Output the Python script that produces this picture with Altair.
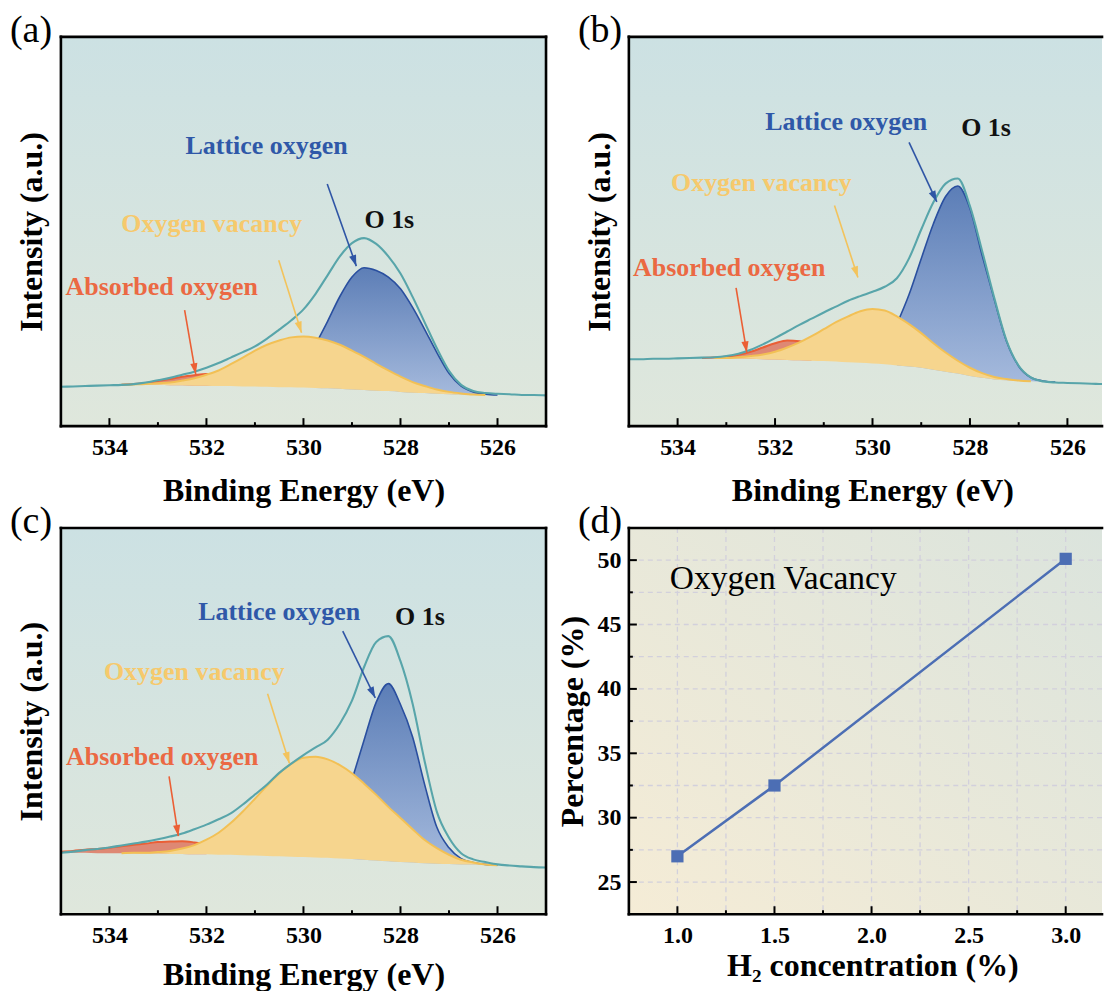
import math
import altair as alt
import pandas as pd

FONT = "Liberation Serif"

# ---------------- data ----------------
ENERGY = [535.0, 534.75, 534.5, 534.25, 534.0, 533.75, 533.5, 533.25, 533.0, 532.75,
          532.5, 532.25, 532.0, 531.75, 531.5, 531.25, 531.0, 530.75, 530.5, 530.25,
          530.0, 529.75, 529.5, 529.25, 529.0, 528.75, 528.5, 528.25, 528.0, 527.75,
          527.5, 527.25, 527.0, 526.75, 526.5, 526.25, 526.0, 525.75, 525.5, 525.25,
          525.0]

# panel (a)
A_TEAL = [10.1, 10.2, 10.3, 10.4, 10.5, 10.6, 10.8, 11.2, 11.8, 12.4,
          13.2, 14.0, 15.0, 16.2, 17.6, 19.0, 20.5, 22.5, 24.8, 27.2,
          30.0, 34.0, 38.8, 43.6, 47.0, 48.3, 46.8, 43.6, 39.2, 33.2,
          26.6, 20.0, 14.2, 10.6, 9.0, 8.5, 8.3, 8.2, 8.0, 8.0,
          7.9]
A_BASE = [10.1, 10.2, 10.3, 10.4, 10.5, 10.6, 10.6, 10.6, 10.6, 10.5,
          10.5, 10.4, 10.4, 10.3, 10.3, 10.2, 10.2, 10.1, 10.0, 10.0,
          9.9, 9.8, 9.7, 9.6, 9.4, 9.3, 9.1, 9.0, 8.8, 8.6,
          8.5, 8.3, 8.2, 8.1, 8.0, 8.0, 8.0, 8.0, 8.0, 7.9,
          7.9]
A_ABS = [0, 0, 0, 0, 0, 0, 0.2, 0.5, 1.0, 1.6,
         2.2, 2.7, 3.0, 2.8, 2.0, 1.2, 0.6, 0.2, 0, 0,
         0, 0, 0, 0, 0, 0, 0, 0, 0, 0,
         0, 0, 0, 0, 0, 0, 0, 0, 0, 0,
         0]
A_VAC = [0, 0, 0, 0, 0, 0, 0.1, 0.2, 0.4, 0.7,
         1.2, 1.9, 2.8, 4.0, 5.6, 7.4, 9.2, 10.8, 12.0, 12.8,
         13.1, 12.9, 12.3, 11.3, 10.0, 8.5, 6.9, 5.3, 3.9, 2.7,
         1.8, 1.1, 0.6, 0.3, 0.1, 0, 0, 0, 0, 0,
         0]
A_LAT = [0, 0, 0, 0, 0, 0, 0, 0, 0, 0,
         0, 0, 0, 0, 0, 0, 0, 0.6, 1.5, 3.3,
         6.5, 11.2, 17.3, 23.7, 28.9, 31.4, 30.9, 29.3, 26.5, 21.9,
         16.3, 10.6, 5.4, 2.2, 0.8, 0.2, 0, 0, 0, 0,
         0]

# panel (b)
B_TEAL = [17.2, 17.2, 17.3, 17.3, 17.4, 17.5, 17.6, 17.7, 18.0, 18.6,
          19.6, 21.0, 22.6, 24.3, 26.0, 27.6, 29.2, 30.7, 32.2, 33.4,
          34.5, 35.8, 38.0, 43.1, 50.5, 57.5, 62.3, 63.6, 56.5, 45.0,
          32.9, 22.0, 15.5, 12.5, 11.5, 11.2, 11.1, 11.0, 10.9, 10.8,
          10.8]
B_BASE = [17.2, 17.2, 17.3, 17.3, 17.4, 17.5, 17.5, 17.5, 17.4, 17.4,
          17.3, 17.2, 17.1, 17.0, 16.9, 16.8, 16.7, 16.6, 16.4, 16.3,
          16.1, 15.9, 15.6, 15.3, 15.0, 14.5, 14.0, 13.5, 12.9, 12.4,
          12.0, 11.8, 11.6, 11.5, 11.4, 11.3, 11.2, 11.1, 11.0, 10.9,
          10.8]
B_ABS = [0, 0, 0, 0, 0, 0, 0, 0.1, 0.4, 0.9,
         1.8, 3.0, 4.2, 5.0, 4.9, 3.9, 2.5, 1.3, 0.5, 0.2,
         0, 0, 0, 0, 0, 0, 0, 0, 0, 0,
         0, 0, 0, 0, 0, 0, 0, 0, 0, 0,
         0]
B_VAC = [0, 0, 0, 0, 0, 0, 0, 0, 0.1, 0.3,
         0.7, 1.2, 2.0, 3.2, 4.6, 6.3, 8.2, 10.1, 11.8, 13.2,
         14.0, 13.8, 12.6, 10.9, 8.9, 6.8, 4.9, 3.3, 2.1, 1.2,
         0.6, 0.3, 0.1, 0, 0, 0, 0, 0, 0, 0,
         0]
B_LAT = [0, 0, 0, 0, 0, 0, 0, 0, 0, 0,
         0, 0, 0, 0, 0, 0, 0, 0, 0.2, 0.7,
         2.0, 5.0, 10.6, 18.5, 28.0, 37.5, 45.0, 48.2, 43.0, 31.5,
         20.5, 10.0, 3.8, 1.0, 0.2, 0, 0, 0, 0, 0,
         0]

# panel (c)
C_TEAL = [15.9, 16.2, 16.6, 16.9, 17.3, 17.8, 18.3, 18.8, 19.4, 20.1,
          20.9, 22.0, 23.2, 24.6, 26.1, 28.4, 31.0, 33.6, 36.6, 39.0,
          41.2, 43.2, 45.2, 49.3, 55.3, 64.0, 70.5, 72.0, 65.5, 54.5,
          39.5, 26.5, 19.8, 15.8, 14.2, 13.5, 12.9, 12.6, 12.4, 12.2,
          12.1]
C_BASE = [15.9, 15.9, 15.9, 15.8, 15.8, 15.8, 15.8, 15.7, 15.7, 15.6,
          15.6, 15.5, 15.5, 15.4, 15.4, 15.3, 15.2, 15.1, 15.0, 14.9,
          14.8, 14.7, 14.6, 14.4, 14.3, 14.1, 13.9, 13.7, 13.5, 13.4,
          13.2, 13.1, 13.0, 12.9, 12.9, 12.8, 12.7, 12.6, 12.5, 12.3,
          12.1]
C_ABS = [0.3, 0.5, 0.8, 1.1, 1.4, 1.8, 2.2, 2.6, 3.0, 3.2,
         3.3, 3.1, 2.6, 1.9, 1.2, 0.7, 0.3, 0.1, 0, 0,
         0, 0, 0, 0, 0, 0, 0, 0, 0, 0,
         0, 0, 0, 0, 0, 0, 0, 0, 0, 0,
         0]
C_VAC = [0, 0, 0, 0, 0, 0, 0.1, 0.2, 0.4, 0.8,
         1.4, 2.4, 3.8, 5.7, 8.2, 11.3, 14.7, 18.2, 21.5, 24.1,
         25.7, 26.1, 25.5, 24.2, 22.2, 19.7, 17.0, 14.1, 11.4, 8.6,
         6.0, 4.0, 2.4, 1.2, 0.5, 0.1, 0, 0, 0, 0,
         0]
C_LAT = [0, 0, 0, 0, 0, 0, 0, 0, 0, 0,
         0, 0, 0, 0, 0, 0, 0, 0, 0, 0,
         0.5, 1.6, 4.6, 10.8, 20.5, 31.0, 41.0, 46.0, 40.8, 32.5,
         20.3, 9.4, 4.2, 1.5, 0.5, 0.1, 0, 0, 0, 0,
         0]

# panel (d)
D_H2 = [1.0, 1.5, 3.0]
D_PCT = [27.0, 32.5, 50.1]

# tick values
X_MAJOR = [534, 532, 530, 528, 526]
X_MINOR = [533, 531, 529, 527]
D_X_MAJOR = [1.0, 1.5, 2.0, 2.5, 3.0]
D_X_MINOR = [1.25, 1.75, 2.25, 2.75]
D_Y_MAJOR = [25, 30, 35, 40, 45, 50]
D_Y_MINOR = [27.5, 32.5, 37.5, 42.5, 47.5]

# annotation texts / arrows (data coordinates)
LABEL_TEXTS = ["Lattice oxygen", "O 1s", "Oxygen vacancy", "Absorbed oxygen"]
TEXT_COLORS = ["#2f58a8", "#111111", "#f6c96c", "#eb6943"]
ARROW_COLORS = ["#2f55a5", "#f3c35c", "#eb5f35"]

A_TXT_X = [530.76, 528.23, 531.89, 532.92]
A_TXT_Y = [72.0, 53.0, 51.8, 35.7]
A_ARR = [(529.51, 62.2, 528.91, 41.1), (530.51, 42.6, 530.04, 24.0), (532.45, 29.8, 532.22, 13.3)]

B_TXT_X = [530.54, 527.67, 532.28, 532.94]
B_TXT_Y = [78.1, 76.7, 62.4, 40.6]
B_ARR = [(529.25, 72.9, 528.68, 57.6), (530.78, 56.7, 530.30, 38.2), (532.80, 35.5, 532.58, 18.9)]

C_TXT_X = [530.50, 527.60, 532.25, 532.91]
C_TXT_Y = [78.2, 77.0, 62.6, 40.7]
C_ARR = [(529.19, 73.3, 528.52, 56.0), (530.74, 57.1, 530.29, 39.1), (532.77, 35.7, 532.58, 20.2)]

# ---------------- styling ----------------
BG_XPS = alt.LinearGradient(gradient="linear",
                            stops=[alt.GradientStop(color="#cce1e3", offset=0),
                                   alt.GradientStop(color="#dfe7dc", offset=1)],
                            x1=0, x2=0, y1=0, y2=1)
BG_D = alt.LinearGradient(gradient="linear",
                          stops=[alt.GradientStop(color="#f5ecd6", offset=0),
                                 alt.GradientStop(color="#dbe4dd", offset=1)],
                          x1=0, y1=1, x2=1, y2=0)
BLUE_FILL = alt.LinearGradient(gradient="linear",
                               stops=[alt.GradientStop(color="#2852a5", offset=0),
                                      alt.GradientStop(color="#8ca6dc", offset=1)],
                               x1=0, x2=0, y1=0, y2=1)
ARROW_PATH = "M0,0L0.9,2.8L-0.9,2.8Z"
ONE = pd.DataFrame({"k": [0]})


def comp_frame(base, vals, cover=None):
    """rows of one fitted component; with `cover`, drop the part hidden under it"""
    rows = []
    n = len(vals)
    for i in range(n):
        near = vals[i] > 0 or (i > 0 and vals[i - 1] > 0) or (i < n - 1 and vals[i + 1] > 0)
        if cover is not None:
            if vals[i] > 0 and cover[i] > vals[i] + 3.0:
                near = False
            if vals[i] == 0 and cover[i] > 0.5:
                near = False
        if near:
            rows.append({"E": ENERGY[i], "base": base[i], "top": base[i] + vals[i]})
    return pd.DataFrame(rows)


def frame_rules(W, H, right=True):
    kw = dict(color="black", strokeWidth=2.6, strokeCap="square")
    rs = [
        alt.Chart(ONE).mark_rule(**kw).encode(x=alt.value(0), x2=alt.value(W), y=alt.value(0)),
        alt.Chart(ONE).mark_rule(**kw).encode(x=alt.value(0), x2=alt.value(W), y=alt.value(H)),
        alt.Chart(ONE).mark_rule(**kw).encode(x=alt.value(0), y=alt.value(0), y2=alt.value(H)),
    ]
    if right:
        rs.append(alt.Chart(ONE).mark_rule(**kw).encode(x=alt.value(W), y=alt.value(0), y2=alt.value(H)))
    return rs


def panel_label(txt):
    return alt.Chart(ONE).mark_text(text=txt, font=FONT, fontSize=38, align="left",
                                    baseline="alphabetic", color="black").encode(
        x=alt.value(-51), y=alt.value(5))


def xps_panel(label, teal, base, absb, vac, lat, txt_x, txt_y, arrows, W, H, xdom,
              right=True, title_x=None, title_pad=17):
    xs = alt.Scale(domain=xdom, reverse=True, nice=False, zero=False)
    ys = alt.Scale(domain=[0, 100], nice=False, zero=False)
    kx = W / (xdom[1] - xdom[0])
    ky = H / 100.0
    ax_kw = dict(values=X_MAJOR, format="d", labelPadding=9, tickSize=0, ticks=False,
                 domain=False, grid=False, labelFlush=False,
                 title="Binding Energy (eV)", titlePadding=title_pad)
    if title_x is not None:
        ax_kw["titleX"] = title_x
    x_axis = alt.Axis(**ax_kw)
    y_axis = alt.Axis(labels=False, ticks=False, domain=False, grid=False, minExtent=0,
                      title="Intensity (a.u.)", titlePadding=12)

    def X(f):
        return alt.X(f, type="quantitative", scale=xs, axis=x_axis)

    def Y(f):
        return alt.Y(f, type="quantitative", scale=ys, axis=y_axis)

    bg = alt.Chart(ONE).mark_rect(fill=BG_XPS).encode(
        x=alt.value(0), x2=alt.value(W), y=alt.value(0), y2=alt.value(H))

    lat_area = alt.Chart(comp_frame(base, lat, cover=vac)).mark_area(
        color=BLUE_FILL, interpolate="monotone", clip=True,
        line=alt.OverlayMarkDef(color="#2a4f9f", strokeWidth=1.6)).encode(
        x=X("E"), y=Y("top"), y2=alt.Y2("base"))
    abs_area = alt.Chart(comp_frame(base, absb, cover=vac)).mark_area(
        color="#de7d68", opacity=0.9, interpolate="monotone", clip=True,
        line=alt.OverlayMarkDef(color="#ea5f36", strokeWidth=2)).encode(
        x=X("E"), y=Y("top"), y2=alt.Y2("base"))
    vac_area = alt.Chart(comp_frame(base, vac)).mark_area(
        color="#f6d58e", opacity=1, interpolate="monotone", clip=True,
        line=alt.OverlayMarkDef(color="#f2c055", strokeWidth=2)).encode(
        x=X("E"), y=Y("top"), y2=alt.Y2("base"))

    teal_df = pd.DataFrame({"E": ENERGY, "I": teal})
    teal_line = alt.Chart(teal_df).mark_line(
        color="#58a5aa", strokeWidth=2.1, interpolate="monotone", clip=True).encode(
        x=X("E"), y=Y("I"))

    maj = alt.Chart(pd.DataFrame({"t": X_MAJOR})).mark_rule(color="black", strokeWidth=2).encode(
        x=X("t"), y=alt.value(H), y2=alt.value(H - 8))
    mnr = alt.Chart(pd.DataFrame({"t": X_MINOR})).mark_rule(color="black", strokeWidth=2).encode(
        x=X("t"), y=alt.value(H), y2=alt.value(H - 4))

    txt_df = pd.DataFrame({"x": txt_x, "y": txt_y, "t": LABEL_TEXTS, "c": TEXT_COLORS})
    texts = alt.Chart(txt_df).mark_text(font=FONT, fontSize=26, fontWeight="bold",
                                        align="center", baseline="middle").encode(
        x=X("x"), y=Y("y"), text="t:N", color=alt.Color("c:N", scale=None))

    rows = []
    for (x1, y1, x2, y2), col in zip(arrows, ARROW_COLORS):
        dx = -(x2 - x1) * kx
        dy = -(y2 - y1) * ky
        ang = (math.degrees(math.atan2(dx, -dy)) + 360.0) % 360.0
        rows.append({"x1": x1, "y1": y1, "x2": x2, "y2": y2, "c": col, "ang": ang})
    arr_df = pd.DataFrame(rows)
    shafts = alt.Chart(arr_df).mark_rule(strokeWidth=1.6).encode(
        x=X("x1"), y=Y("y1"), x2=alt.X2("x2"), y2=alt.Y2("y2"),
        color=alt.Color("c:N", scale=None))
    heads = alt.Chart(arr_df).mark_point(shape=ARROW_PATH, size=64, filled=True, opacity=1,
                                         strokeWidth=0).encode(
        x=X("x2"), y=Y("y2"), angle=alt.Angle("ang:Q", scale=None),
        color=alt.Color("c:N", scale=None))

    layers = [bg, lat_area, abs_area, vac_area, teal_line, maj, mnr] + frame_rules(W, H, right) + \
             [texts, shafts, heads, panel_label(label)]
    return alt.layer(*layers).properties(width=W, height=H)


def d_panel(W, H, xdom, title_x):
    xs = alt.Scale(domain=xdom, nice=False, zero=False)
    ys = alt.Scale(domain=[22.5, 52.5], nice=False, zero=False)
    x_axis = alt.Axis(values=D_X_MAJOR, format=".1f", labelPadding=9, tickSize=0, ticks=False,
                      domain=False, grid=False, labelFlush=False,
                      title="H\u2082 concentration (%)", titlePadding=3, titleX=title_x)
    y_axis = alt.Axis(values=D_Y_MAJOR, format="d", labelPadding=8, tickSize=0, ticks=False,
                      domain=False, grid=False, labelFlush=False,
                      title="Percentage (%)", titlePadding=7)

    def X(f):
        return alt.X(f, type="quantitative", scale=xs, axis=x_axis)

    def Y(f):
        return alt.Y(f, type="quantitative", scale=ys, axis=y_axis)

    bg = alt.Chart(ONE).mark_rect(fill=BG_D).encode(
        x=alt.value(0), x2=alt.value(W), y=alt.value(0), y2=alt.value(H))
    gx = alt.Chart(pd.DataFrame({"t": D_X_MAJOR + D_X_MINOR})).mark_rule(
        color="#d2d0dc", strokeWidth=1.3, strokeDash=[5, 4]).encode(x=X("t"))
    gy = alt.Chart(pd.DataFrame({"t": D_Y_MAJOR + D_Y_MINOR})).mark_rule(
        color="#d2d0dc", strokeWidth=1.3, strokeDash=[5, 4]).encode(y=Y("t"))

    df = pd.DataFrame({"h": D_H2, "p": D_PCT})
    line = alt.Chart(df).mark_line(color="#4c6eb4", strokeWidth=2.5).encode(
        x=X("h"), y=Y("p"))
    pts = alt.Chart(df).mark_point(shape="square", filled=True, size=150, color="#4c6eb4",
                                   opacity=1).encode(x=X("h"), y=Y("p"))

    xmaj = alt.Chart(pd.DataFrame({"t": D_X_MAJOR})).mark_rule(color="black", strokeWidth=2).encode(
        x=X("t"), y=alt.value(H), y2=alt.value(H - 8))
    xmin = alt.Chart(pd.DataFrame({"t": D_X_MINOR})).mark_rule(color="black", strokeWidth=2).encode(
        x=X("t"), y=alt.value(H), y2=alt.value(H - 4))
    ymaj = alt.Chart(pd.DataFrame({"t": D_Y_MAJOR})).mark_rule(color="black", strokeWidth=2).encode(
        y=Y("t"), x=alt.value(0), x2=alt.value(8))
    ymin = alt.Chart(pd.DataFrame({"t": D_Y_MINOR})).mark_rule(color="black", strokeWidth=2).encode(
        y=Y("t"), x=alt.value(0), x2=alt.value(4))

    note = alt.Chart(pd.DataFrame({"x": [0.961], "y": [48.5], "t": ["Oxygen Vacancy"]})).mark_text(
        font=FONT, fontSize=33.5, align="left", baseline="middle", color="black").encode(
        x=X("x"), y=Y("y"), text="t:N")

    layers = [bg, gx, gy, line, pts, xmaj, xmin, ymaj, ymin] + frame_rules(W, H, right=False) + \
             [note, panel_label("(d)")]
    return alt.layer(*layers).properties(width=W, height=H)


WA, WB = 486, 474
H1, H2 = 390, 387

pa = xps_panel("(a)", A_TEAL, A_BASE, A_ABS, A_VAC, A_LAT, A_TXT_X, A_TXT_Y, A_ARR,
               WA, H1, [525.0, 535.0])
pb = xps_panel("(b)", B_TEAL, B_BASE, B_ABS, B_VAC, B_LAT, B_TXT_X, B_TXT_Y, B_ARR,
               WB, H1, [525.29, 535.0], right=False, title_x=244)
pc = xps_panel("(c)", C_TEAL, C_BASE, C_ABS, C_VAC, C_LAT, C_TXT_X, C_TXT_Y, C_ARR,
               WA, H2, [525.0, 535.0], title_pad=12)
pdd = d_panel(WB, H2, [0.75, 3.187], 244)

chart = alt.concat(pa, pb, pc, pdd, columns=2, spacing={"row": 102, "column": 83},
                   bounds="flush").properties(
    padding={"left": 2, "top": 3, "right": 0, "bottom": 0}
).configure_view(stroke=None).configure_axis(
    labelFont=FONT, labelFontSize=24, labelFontWeight="bold", labelColor="black",
    titleFont=FONT, titleFontSize=32, titleFontWeight="bold", titleColor="black"
)

chart.save("out.html", embed_options={"renderer": "svg", "actions": False})
